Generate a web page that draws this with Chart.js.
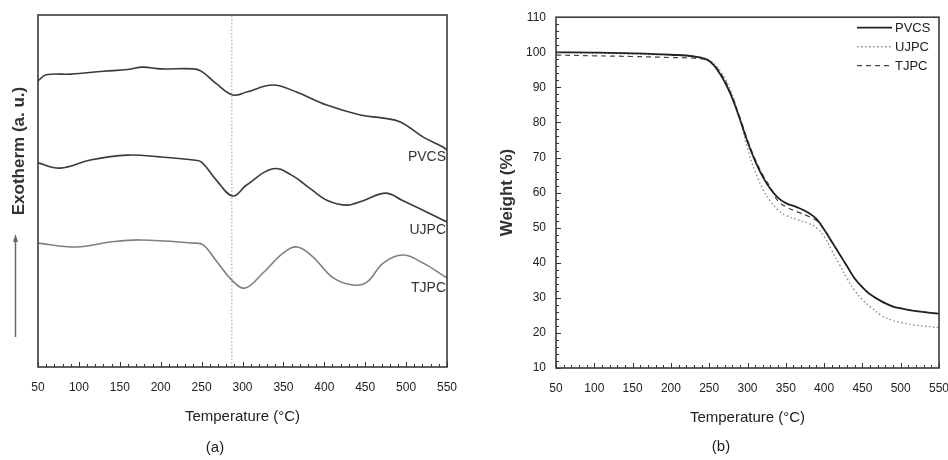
<!DOCTYPE html>
<html><head><meta charset="utf-8">
<script src="https://cdn.jsdelivr.net/npm/chart.js@4/dist/chart.umd.min.js"></script>
<style>
html,body{margin:0;padding:0;background:#fff;}
#wrap{position:relative;width:948px;height:460px;overflow:hidden;}
.panel{position:absolute;top:0;width:474px;height:460px;}
#pa{left:0}#pb{left:474px}
</style></head><body>
<div id="wrap"><div class="panel" id="pa"><canvas id="ca" width="474" height="460"></canvas></div><div class="panel" id="pb"><canvas id="cb" width="474" height="460"></canvas></div></div>
<script>
// ---------- Panel (a): DSC curves (arbitrary units) ----------
const seriesNames = ['PVCS', 'UJPC', 'TJPC'];
const dscTempPVCS = [50, 60, 90, 130, 160, 178, 200, 240, 250, 268, 288, 305, 337, 366, 403, 444, 472, 493, 521, 545, 550];
const dscPVCS     = [81.3, 83.0, 83.2, 84.0, 84.5, 85.2, 84.7, 84.7, 84.0, 80.5, 77.3, 78.1, 80.1, 78.1, 74.4, 71.6, 70.7, 69.6, 65.3, 62.5, 61.6];
const dscTempUJPC = [50, 77, 114, 159, 199, 240, 250, 268, 288, 305, 337, 360, 385, 403, 428, 449, 475, 495, 520, 550];
const dscUJPC     = [58.0, 56.5, 58.8, 60.2, 59.7, 58.8, 58.2, 53.1, 48.6, 51.7, 56.3, 54.5, 50.3, 47.4, 46.0, 47.4, 49.4, 47.4, 44.6, 41.2];
const dscTempTJPC = [50, 97, 138, 175, 240, 252, 269, 287, 303, 325, 350, 367, 386, 411, 435, 452, 472, 496, 521, 550];
const dscTJPC     = [35.2, 34.1, 35.5, 36.1, 35.2, 34.7, 29.8, 24.7, 22.4, 26.7, 32.4, 34.1, 31.3, 25.3, 23.3, 24.1, 29.5, 31.8, 29.5, 25.3];
const refTemp = 287;

// ---------- Panel (b): TGA curves (weight %) ----------
const tgaTemp = [50, 100, 150, 200, 230, 250, 265, 278, 290, 300, 310, 320, 330, 340, 350, 365, 380, 390, 400, 410, 420, 430, 440, 450, 460, 475, 490, 500, 520, 550];
const tgaPVCS = [100, 99.9, 99.7, 99.3, 98.8, 97.5, 93.5, 88, 81, 74.5, 69, 64.5, 61, 58.5, 57, 55.8, 54.2, 52.5, 49.5, 46, 42.5, 39, 35.5, 33, 31, 29, 27.5, 27, 26.2, 25.5];
const tgaUJPC = [100, 99.8, 99.5, 99.2, 98.8, 97.8, 94.5, 89, 81, 72.5, 66, 61, 57.5, 55, 53.5, 52.3, 51.2, 50, 47.5, 43.5, 39.5, 35.5, 32, 29.5, 27.5, 25, 23.5, 23, 22.2, 21.5];
const tgaTJPC = [99.2, 99, 98.8, 98.5, 98.3, 97.5, 94, 88.5, 81.5, 75, 69.5, 65, 61.5, 57.5, 56, 54.5, 53.2, 52, 49.5, 46, 42.5, 39, 35.5, 33, 31, 29, 27.5, 27, 26.2, 25.5];

// ---------- Tick labels ----------
const tempTicks = [50, 100, 150, 200, 250, 300, 350, 400, 450, 500, 550];
const weightTicks = [10, 20, 30, 40, 50, 60, 70, 80, 90, 100, 110];

const FONT = "'Liberation Sans', Arial, sans-serif";
const pts = (xs, ys) => xs.map((x, i) => ({x: x, y: ys[i]}));

// inward ticks + frame
const frameTicks = {
  id: 'frameTicks',
  afterDatasetsDraw(chart, args, o) {
    const {ctx, chartArea: {left, right, top, bottom}} = chart;
    ctx.save();
    ctx.strokeStyle = '#333';
    ctx.lineWidth = 1;
    const xs = chart.scales.x;
    for (let v = xs.min; v <= xs.max + 1e-6; v += o.xMinor) {
      const px = Math.round(xs.getPixelForValue(v)) + 0.5;
      const major = Math.abs((v - xs.min) % o.xMajor) < 1e-6;
      ctx.beginPath(); ctx.moveTo(px, bottom); ctx.lineTo(px, bottom - (major ? 5 : 3)); ctx.stroke();
    }
    if (o.yMinor) {
      const ys = chart.scales.y;
      for (let v = ys.min; v <= ys.max + 1e-6; v += o.yMinor) {
        const py = Math.round(ys.getPixelForValue(v)) + 0.5;
        const major = Math.abs((v - ys.min) % o.yMajor) < 1e-6;
        ctx.beginPath(); ctx.moveTo(left, py); ctx.lineTo(left + (major ? 5 : 3), py); ctx.stroke();
      }
    }
    ctx.lineWidth = 1.6;
    ctx.strokeStyle = '#3a3a3a';
    ctx.strokeRect(left, top, right - left, bottom - top);
    ctx.restore();
  }
};

// panel texts
const panelText = {
  id: 'panelText',
  afterDraw(chart, args, o) {
    const {ctx} = chart;
    ctx.save();
    ctx.fillStyle = '#222';
    ctx.textAlign = 'center';
    ctx.textBaseline = 'middle';
    ctx.font = '15px ' + FONT;
    ctx.fillText(o.tag, o.tagX, o.tagY);
    if (o.curveLabels) {
      const xs = chart.scales.x, ys = chart.scales.y;
      ctx.font = '14px ' + FONT;
      ctx.textAlign = 'right';
      ctx.fillStyle = '#333';
      o.curveLabels.forEach((lab, i) => {
        ctx.fillText(lab, xs.getPixelForValue(xs.max) - 1, ys.getPixelForValue(o.curveLabelY[i]));
      });
      // y-axis title with arrow
      ctx.save();
      ctx.translate(19, 151);
      ctx.rotate(-Math.PI / 2);
      ctx.textAlign = 'center';
      ctx.font = 'bold 17px ' + FONT;
      ctx.fillStyle = '#333';
      ctx.fillText('Exotherm (a. u.)', 0, 0);
      ctx.restore();
      ctx.strokeStyle = '#666';
      ctx.fillStyle = '#666';
      ctx.lineWidth = 1.5;
      ctx.beginPath(); ctx.moveTo(15.5, 337); ctx.lineTo(15.5, 240); ctx.stroke();
      ctx.beginPath(); ctx.moveTo(15.5, 234); ctx.lineTo(13, 242); ctx.lineTo(18, 242); ctx.closePath(); ctx.fill();
    }
    if (o.legend) {
      const ca = chart.chartArea;
      ctx.font = '13px ' + FONT;
      ctx.textAlign = 'left';
      chart.data.datasets.forEach((ds, i) => {
        const y = ca.top + 10 + i * 19;
        const x0 = ca.right - 82;
        ctx.save();
        ctx.strokeStyle = ds.borderColor;
        ctx.lineWidth = ds.borderWidth;
        ctx.setLineDash(ds.borderDash || []);
        ctx.beginPath(); ctx.moveTo(x0, y + 0.5); ctx.lineTo(x0 + 35, y + 0.5); ctx.stroke();
        ctx.restore();
        ctx.fillStyle = '#222';
        ctx.fillText(ds.label, x0 + 38, y + 1);
      });
    }
    ctx.restore();
  }
};

const tickFont = {family: FONT, size: 12};
const fitX = h => s => { s.height = h; s.paddingLeft = 0; s.paddingRight = 0; };

// ---------- Chart (a) ----------
new Chart(document.getElementById('ca'), {
  type: 'line',
  data: {
    datasets: [
      {label: seriesNames[0], data: pts(dscTempPVCS, dscPVCS), borderColor: '#3a3a3a', borderWidth: 1.6},
      {label: seriesNames[1], data: pts(dscTempUJPC, dscUJPC), borderColor: '#3a3a3a', borderWidth: 1.6},
      {label: seriesNames[2], data: pts(dscTempTJPC, dscTJPC), borderColor: '#808080', borderWidth: 1.6},
      {label: 'ref', data: [{x: refTemp, y: 0}, {x: refTemp, y: 100}], borderColor: '#999', borderWidth: 1, borderDash: [1.5, 2], tension: 0}
    ]
  },
  options: {
    responsive: false, animation: false, devicePixelRatio: 1,
    elements: {point: {radius: 0}, line: {tension: 0.4}},
    layout: {autoPadding: false, padding: {left: 38, right: 27, top: 15, bottom: 0}},
    plugins: {
      legend: {display: false}, tooltip: {enabled: false},
      frameTicks: {xMinor: 10, xMajor: 50},
      panelText: {tag: '(a)', tagX: 215, tagY: 448, curveLabels: seriesNames, curveLabelY: [59.7, 38.9, 22.4]}
    },
    scales: {
      x: {
        type: 'linear', min: 50, max: 550,
        afterBuildTicks: s => { s.ticks = tempTicks.map(v => ({value: v})); },
        afterFit: fitX(93),
        grid: {display: false, drawTicks: false},
        border: {display: false},
        ticks: {font: tickFont, color: '#222', padding: 13, maxRotation: 0, autoSkip: false},
        title: {display: true, text: 'Temperature (°C)', font: {family: FONT, size: 15}, color: '#222', padding: {top: 0, bottom: 34}}
      },
      y: {display: false, min: 0, max: 100}
    }
  },
  plugins: [frameTicks, panelText]
});

// ---------- Chart (b) ----------
new Chart(document.getElementById('cb'), {
  type: 'line',
  data: {
    datasets: [
      {label: seriesNames[0], data: pts(tgaTemp, tgaPVCS), borderColor: '#222', borderWidth: 1.8},
      {label: seriesNames[1], data: pts(tgaTemp, tgaUJPC), borderColor: '#8a8a8a', borderWidth: 1.4, borderDash: [1.5, 2.5]},
      {label: seriesNames[2], data: pts(tgaTemp, tgaTJPC), borderColor: '#444', borderWidth: 1.2, borderDash: [5, 4]}
    ]
  },
  options: {
    responsive: false, animation: false, devicePixelRatio: 1,
    elements: {point: {radius: 0}, line: {tension: 0.4}},
    layout: {autoPadding: false, padding: {left: 0, right: 9, top: 15, bottom: 0}},
    plugins: {
      legend: {display: false}, tooltip: {enabled: false},
      frameTicks: {xMinor: 10, xMajor: 50, yMinor: 2, yMajor: 10},
      panelText: {tag: '(b)', tagX: 247, tagY: 447, legend: true}
    },
    scales: {
      x: {
        type: 'linear', min: 50, max: 550,
        afterBuildTicks: s => { s.ticks = tempTicks.map(v => ({value: v})); },
        afterFit: fitX(92),
        grid: {display: false, drawTicks: false},
        border: {display: false},
        ticks: {font: tickFont, color: '#222', padding: 13, maxRotation: 0, autoSkip: false},
        title: {display: true, text: 'Temperature (°C)', font: {family: FONT, size: 15}, color: '#222', padding: {top: 0, bottom: 33}}
      },
      y: {
        type: 'linear', min: 10, max: 110,
        afterBuildTicks: s => { s.ticks = weightTicks.map(v => ({value: v})); },
        afterFit: s => { s.width = 82; },
        grid: {display: false, drawTicks: false},
        border: {display: false},
        ticks: {font: tickFont, color: '#222', padding: 10},
        title: {display: true, text: 'Weight (%)', font: {family: FONT, size: 17, weight: 'bold'}, color: '#333', padding: {top: 23, bottom: 0}}
      }
    }
  },
  plugins: [frameTicks, panelText]
});
</script>
</body></html>
